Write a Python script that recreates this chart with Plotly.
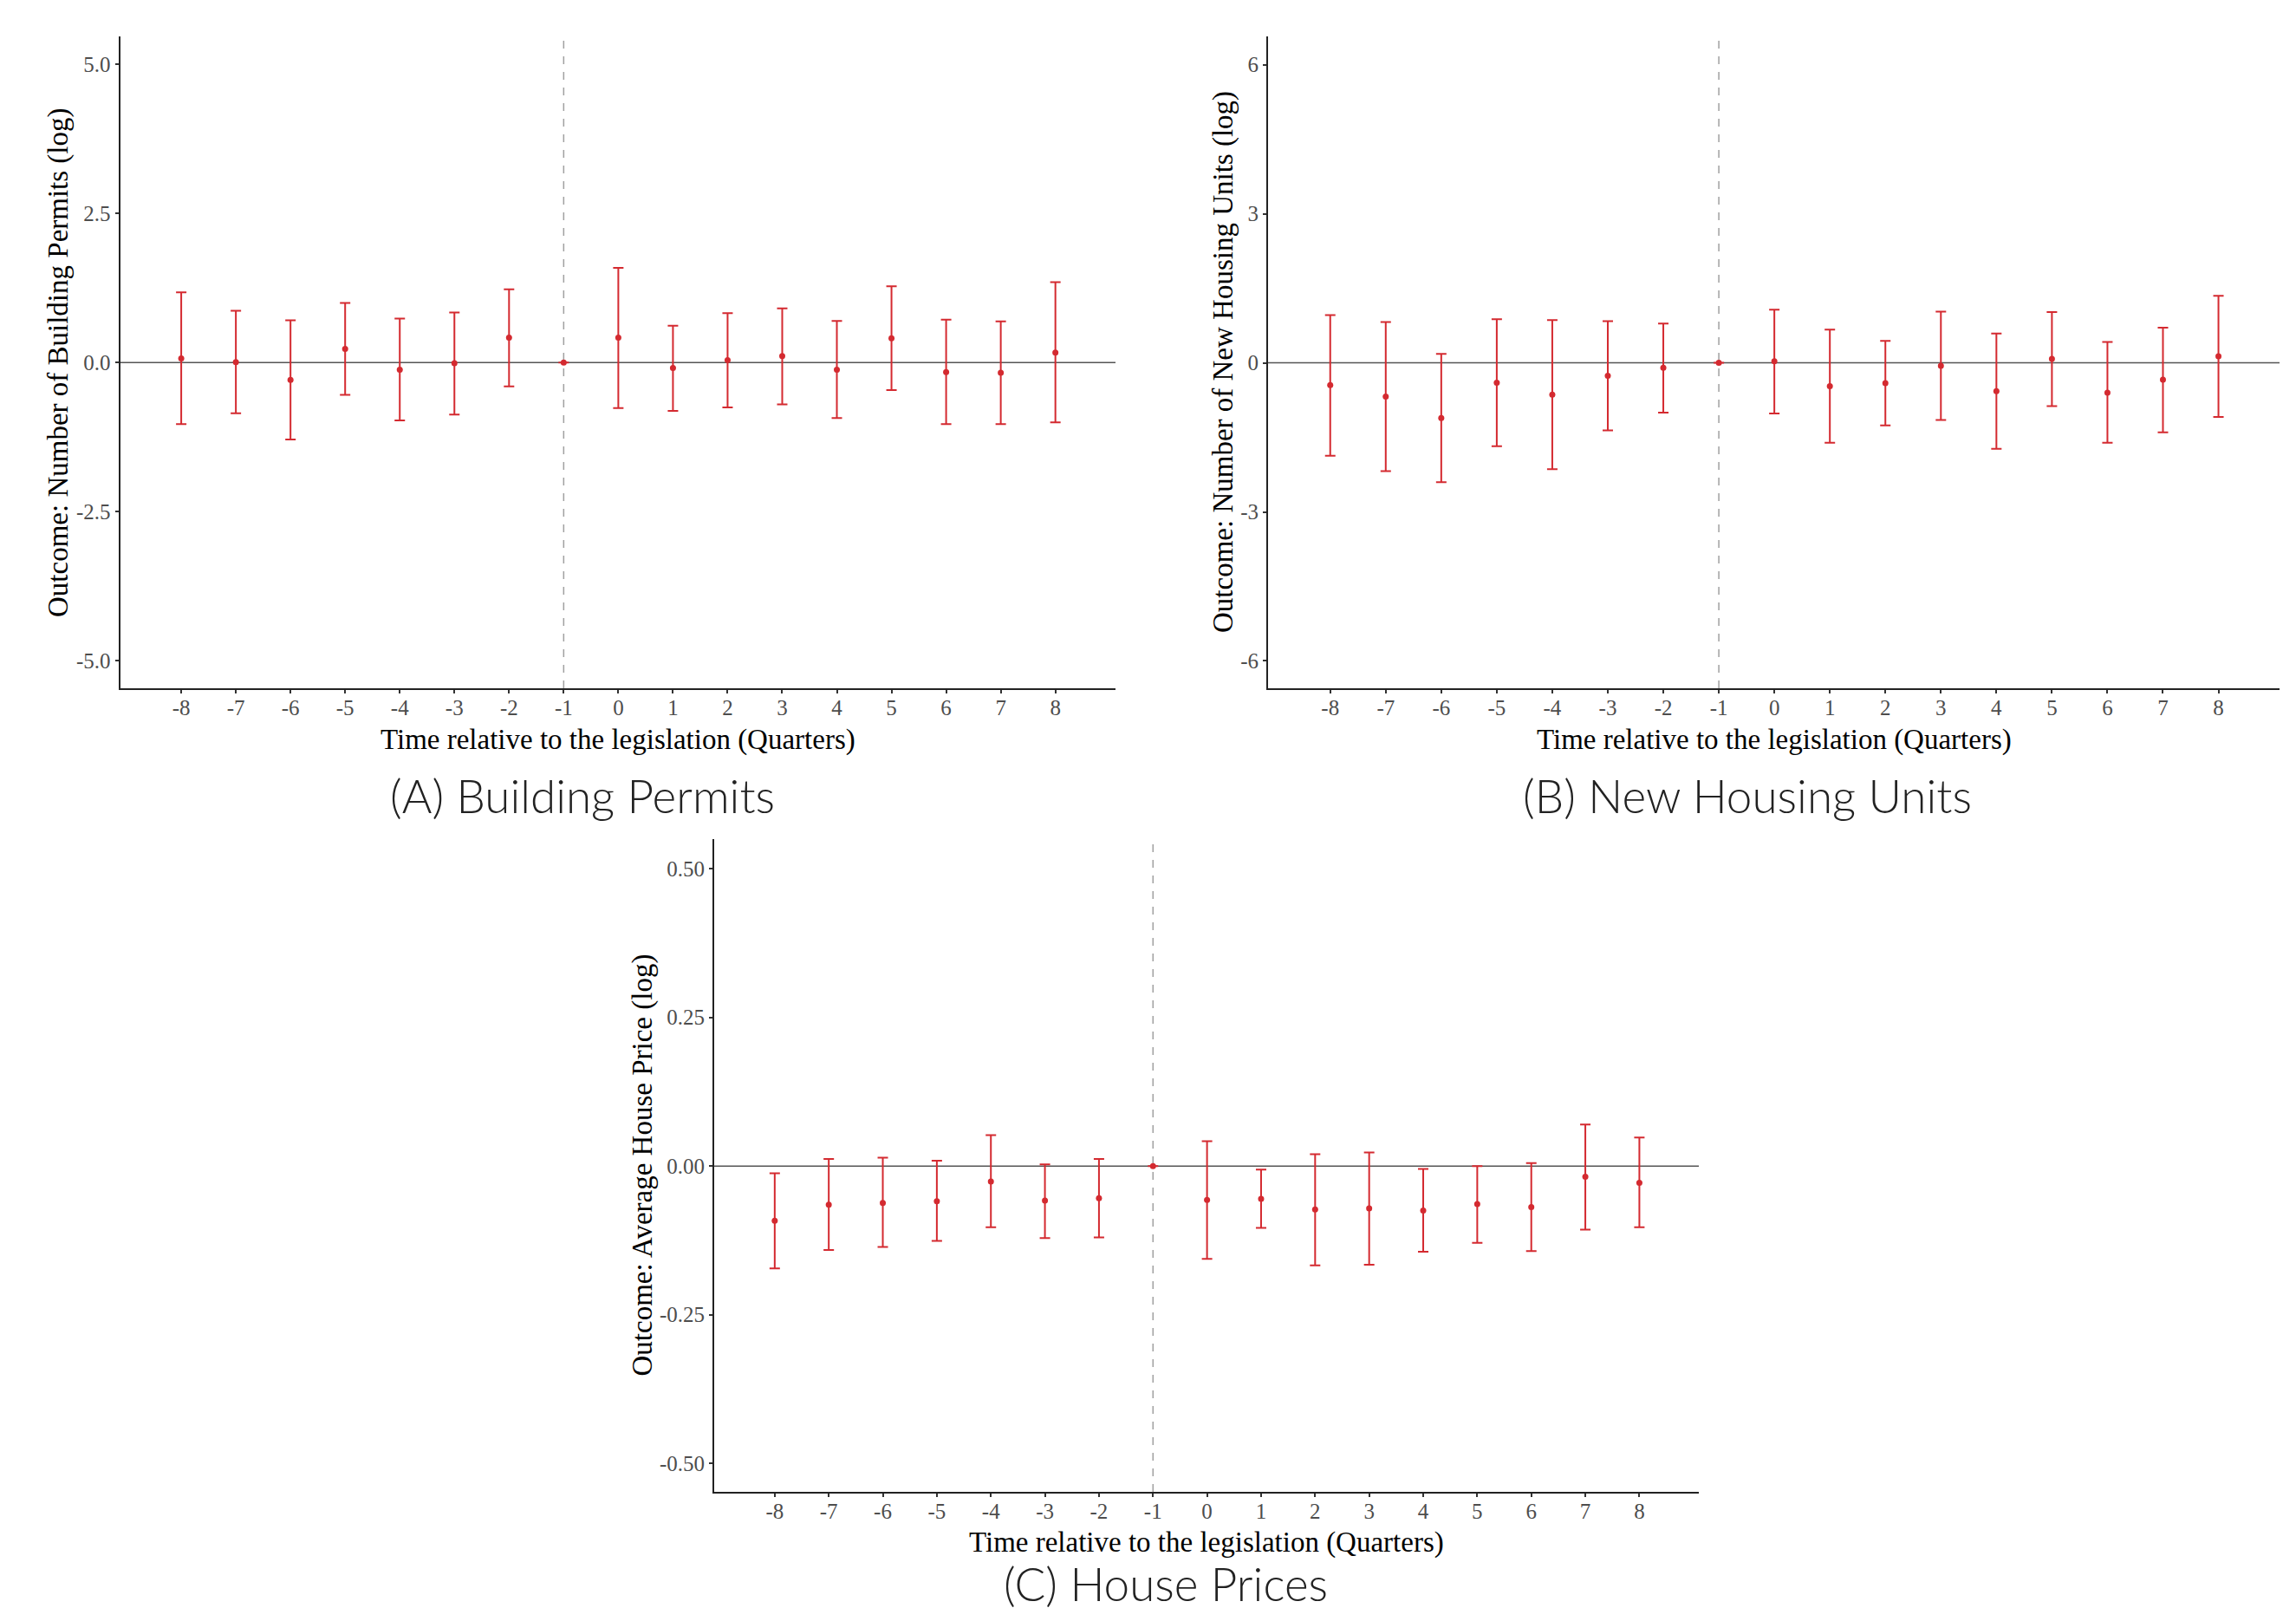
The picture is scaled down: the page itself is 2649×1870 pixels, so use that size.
import plotly.graph_objects as go

PAGE_W, PAGE_H = 2649, 1870
OFF = 8  # default body margin of the html page
W, H = PAGE_W - 2 * OFF, PAGE_H - 2 * OFF

quarters = list(range(-8, 9))
x_tick_labels = [str(q) for q in quarters]

# Panel A: Building Permits
a_est = [0.07, 0.01, -0.29, 0.23, -0.12, -0.01, 0.42, 0.0, 0.42, -0.09, 0.04, 0.11, -0.12, 0.41, -0.16, -0.17, 0.17]
a_hi = [1.18, 0.87, 0.71, 1.00, 0.74, 0.84, 1.23, 0.0, 1.59, 0.62, 0.83, 0.91, 0.70, 1.28, 0.72, 0.69, 1.35]
a_lo = [-1.03, -0.85, -1.29, -0.54, -0.97, -0.87, -0.40, 0.0, -0.76, -0.81, -0.75, -0.70, -0.93, -0.46, -1.03, -1.03, -1.00]

# Panel B: New Housing Units
b_est = [-0.45, -0.68, -1.11, -0.40, -0.64, -0.26, -0.10, 0.0, 0.03, -0.47, -0.41, -0.06, -0.57, 0.08, -0.60, -0.34, 0.13]
b_hi = [0.96, 0.82, 0.18, 0.88, 0.86, 0.84, 0.79, 0.0, 1.07, 0.67, 0.44, 1.03, 0.59, 1.02, 0.42, 0.71, 1.35]
b_lo = [-1.87, -2.18, -2.40, -1.68, -2.14, -1.36, -1.00, 0.0, -1.02, -1.61, -1.26, -1.15, -1.73, -0.87, -1.61, -1.40, -1.09]

# Panel C: House Prices
c_est = [-0.092, -0.065, -0.062, -0.059, -0.026, -0.058, -0.054, 0.0, -0.057, -0.055, -0.073, -0.071, -0.075, -0.064, -0.069, -0.018, -0.028]
c_hi = [-0.012, 0.012, 0.014, 0.009, 0.052, 0.003, 0.012, 0.0, 0.042, -0.006, 0.020, 0.023, -0.005, 0.000, 0.005, 0.070, 0.048]
c_lo = [-0.172, -0.141, -0.136, -0.126, -0.103, -0.121, -0.120, 0.0, -0.156, -0.104, -0.167, -0.166, -0.144, -0.129, -0.143, -0.107, -0.103]

a_yticks = [5.0, 2.5, 0.0, -2.5, -5.0]
a_yticklabels = ["5.0", "2.5", "0.0", "-2.5", "-5.0"]
b_yticks = [6, 3, 0, -3, -6]
b_yticklabels = ["6", "3", "0", "-3", "-6"]
c_yticks = [0.50, 0.25, 0.0, -0.25, -0.50]
c_yticklabels = ["0.50", "0.25", "0.00", "-0.25", "-0.50"]

panels = [
    dict(est=a_est, hi=a_hi, lo=a_lo, yt=a_yticks, ytl=a_yticklabels, yr=[-5.46, 5.47],
         px=(138.5, 1287), py=(42, 794),
         ytitle="Outcome: Number of Building Permits (log)", ytx=68,
         caption="(A) Building Permits", capx=672, capy=917, xty=853),
    dict(est=b_est, hi=b_hi, lo=b_lo, yt=b_yticks, ytl=b_yticklabels, yr=[-6.55, 6.57],
         px=(1463, 2630), py=(42, 794),
         ytitle="Outcome: Number of New Housing Units (log)", ytx=1412,
         caption="(B) New Housing Units", capx=2016, capy=917, xty=853),
    dict(est=c_est, hi=c_hi, lo=c_lo, yt=c_yticks, ytl=c_yticklabels, yr=[-0.548, 0.55],
         px=(824, 1960), py=(968, 1721),
         ytitle="Outcome: Average House Price (log)", ytx=741,
         caption="(C) House Prices", capx=1345, capy=1826, xty=1779),
]


def fx(px):
    return (px - OFF) / W


def fy(py):
    return 1 - (py - OFF) / H


RED = "#d42a30"
SERIF = "Liberation Serif"
fig = go.Figure()
annotations = []
shapes = []

for i, p in enumerate(panels):
    n = "" if i == 0 else str(i + 1)
    xa, ya = "x" + n, "y" + n
    plus = [h - e for h, e in zip(p["hi"], p["est"])]
    minus = [e - l for e, l in zip(p["est"], p["lo"])]
    fig.add_trace(go.Scatter(
        x=quarters, y=p["est"], mode="markers", xaxis=xa, yaxis=ya,
        marker=dict(color=RED, size=7),
        error_y=dict(type="data", array=plus, arrayminus=minus, symmetric=False,
                     color=RED, thickness=2, width=6),
        showlegend=False, cliponaxis=False))
    x0, x1 = p["px"]
    y0, y1 = p["py"]
    layout_x = dict(domain=[fx(x0), fx(x1)], range=[-9.12, 9.1], anchor=ya,
                    tickvals=quarters, ticktext=x_tick_labels, showgrid=False, zeroline=False,
                    showline=True, linecolor="#222", linewidth=2, ticks="outside", ticklen=4,
                    tickcolor="#333", tickwidth=1.5, ticklabelstandoff=-5,
                    tickfont=dict(family=SERIF, size=25, color="#4d4d4d"))
    layout_y = dict(domain=[fy(y1), fy(y0)], range=p["yr"], anchor=xa,
                    tickvals=p["yt"], ticktext=p["ytl"], showgrid=False, zeroline=False,
                    showline=True, linecolor="#222", linewidth=2, ticks="outside", ticklen=4,
                    tickcolor="#333", tickwidth=1.5, ticklabelstandoff=0,
                    tickfont=dict(family=SERIF, size=25, color="#4d4d4d"))
    fig.update_layout(**{"xaxis" + n: layout_x, "yaxis" + n: layout_y})
    shapes.append(dict(type="line", xref=xa + " domain", yref=ya, x0=0, x1=1, y0=0, y1=0,
                       line=dict(color="#555", width=1.5), layer="below"))
    shapes.append(dict(type="line", xref=xa, yref=ya + " domain", x0=-1, x1=-1, y0=0, y1=1,
                       line=dict(color="#a0a0a0", width=1.5, dash="dash"), layer="below"))
    annotations.append(dict(text="Time relative to the legislation (Quarters)",
                            x=fx((x0 + x1) / 2), y=fy(p["xty"]), xref="paper", yref="paper",
                            showarrow=False, xanchor="center", yanchor="middle",
                            font=dict(family=SERIF, size=33, color="black")))
    annotations.append(dict(text=p["ytitle"], textangle=-90,
                            x=fx(p["ytx"]), y=fy((y0 + y1) / 2), xref="paper", yref="paper",
                            showarrow=False, xanchor="center", yanchor="middle",
                            font=dict(family=SERIF, size=33, color="black")))
    annotations.append(dict(text=p["caption"], x=fx(p["capx"]), y=fy(p["capy"]),
                            xref="paper", yref="paper", showarrow=False,
                            xanchor="center", yanchor="middle",
                            font=dict(family="Lato Light, Lato", size=53, color="#222")))

fig.update_layout(width=W, height=H, margin=dict(l=0, r=0, t=0, b=0),
                  plot_bgcolor="white", paper_bgcolor="white",
                  annotations=annotations, shapes=shapes)

fig.write_html("out.html")
